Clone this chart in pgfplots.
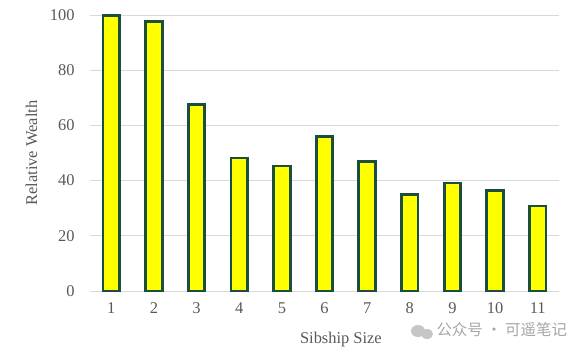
\documentclass[border=0pt]{standalone}
\usepackage{pgfplots}
\pgfplotsset{compat=1.18}
\usepackage{fontspec}
\setmainfont{Liberation Serif}
\newfontfamily\cjk{Noto Sans CJK SC}
\definecolor{barfill}{RGB}{255,255,0}
\definecolor{baredge}{RGB}{28,78,62}
\definecolor{txtgray}{RGB}{89,89,89}
\definecolor{gridgray}{RGB}{217,217,217}
\begin{document}
\begin{tikzpicture}[x=1bp,y=1bp]
\path[use as bounding box] (0,0) rectangle (588,353);
\begin{axis}[
  at={(90bp,62bp)}, anchor=south west,
  scale only axis, width=469bp, height=276bp,
  xmin=0.5, xmax=11.5, ymin=0, ymax=100,
  xtick={1,...,11}, ytick={0,20,...,100},
  axis y line*=left, axis x line*=bottom,
  y axis line style={draw=none},
  x axis line style={gridgray, line width=0.8pt},
  major tick length=0pt,
  ymajorgrids, grid style={gridgray, line width=0.8pt},
  tick label style={font=\fontsize{16.5}{18}\selectfont, text=txtgray},
  /pgf/number format/assume math mode=true,
  yticklabel style={xshift=-12bp},
  xticklabel style={yshift=-8bp},
  xlabel={Sibship Size}, ylabel={Relative Wealth},
  label style={font=\fontsize{16.5}{18}\selectfont, text=txtgray},
  xlabel style={at={(axis description cs:0.535,0)}, anchor=north, yshift=-38bp},
  ylabel style={at={(axis description cs:0,0.5)}, anchor=south, yshift=49bp},
  clip=false,
]
\addplot[ybar, bar width=16.5bp, fill=barfill, draw=baredge, line width=2.8bp]
  coordinates {(1,99.8) (2,97.5) (3,67.5) (4,48.2) (5,45.3) (6,55.9) (7,47.0) (8,34.9) (9,39.1) (10,36.3) (11,30.8)};
\end{axis}
\fill[gray!45] (418,22) ellipse (7 and 6);
\fill[gray!45] (427,19) ellipse (6 and 5);
\node[anchor=west, text=gray!70, font=\cjk\fontsize{15.5}{17}\selectfont] at (433,23) {公众号 · 可遥笔记};
\end{tikzpicture}
\end{document}
